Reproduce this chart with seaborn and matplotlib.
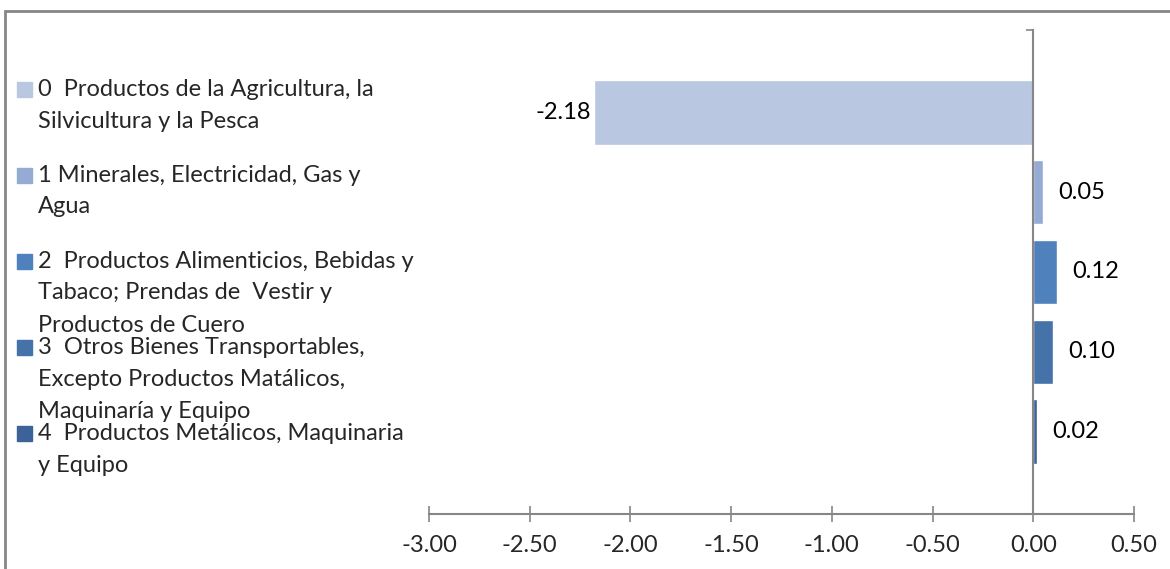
import matplotlib.pyplot as plt
import matplotlib.patches as mpatches
import seaborn as sns

codes = ['0', '1', '2', '3', '4']
values = [-2.18, 0.05, 0.12, 0.10, 0.02]
value_labels = ['-2.18', '0.05', '0.12', '0.10', '0.02']
legend_labels = [
    '0  Productos de la Agricultura, la\nSilvicultura y la Pesca',
    '1 Minerales, Electricidad, Gas y\nAgua',
    '2  Productos Alimenticios, Bebidas y\nTabaco; Prendas de  Vestir y\nProductos de Cuero',
    '3  Otros Bienes Transportables,\nExcepto Productos Matálicos,\nMaquinaría y Equipo',
    '4  Productos Metálicos, Maquinaria\ny Equipo',
]
xticks = [-3.0, -2.5, -2.0, -1.5, -1.0, -0.5, 0.0, 0.5]
colors = ['#B9C7E1', '#95ABD4', '#4F81BD', '#4572A8', '#3C6298']

sns.set_style('white')
plt.rcParams['font.family'] = ['Lato', 'DejaVu Sans']
FS = 17

fig = plt.figure(figsize=(11.7, 5.69), dpi=100)
ax = fig.add_axes([429 / 1170, 55 / 569, 705 / 1170, 484 / 569])

sns.barplot(x=values, y=codes, hue=codes, palette=colors, orient='h',
            width=0.81, legend=False, ax=ax, saturation=1)

ax.set_xlim(-3.0, 0.5)
ax.set_ylim(5.03, -1.03)

# value labels
for cont, v, lab in zip(ax.containers, values, value_labels):
    pad = 2 if v < 0 else 11
    ax.bar_label(cont, labels=[lab], padding=pad, fontsize=FS, color='black')

gray = '#868686'
for s in ['top', 'right']:
    ax.spines[s].set_visible(False)
ax.spines['left'].set_position(('data', 0))
ax.spines['left'].set_color(gray)
ax.spines['left'].set_linewidth(1.5)
ax.spines['bottom'].set_color(gray)
ax.spines['bottom'].set_linewidth(1.5)

ax.set_xticks(xticks)
ax.set_xticklabels([f'{t:.2f}' for t in xticks])
ax.tick_params(axis='x', direction='inout', length=12, width=1.2, color=gray,
               labelsize=FS, pad=9, bottom=True)
ax.set_yticks([-1.03])
ax.set_yticklabels([''])
ax.tick_params(axis='y', direction='out', length=5, width=1.2, color=gray, left=True)
ax.set_xlabel('')
ax.set_ylabel('')

# legend drawn by hand (entries overlap like the original)
W, H = 1170, 569
for i, (lab, c) in enumerate(zip(legend_labels, colors)):
    y0 = 89 + i * 86
    fig.patches.append(mpatches.Rectangle((17 / W, 1 - (y0 + 8) / H), 15 / W, 15 / H,
                                          transform=fig.transFigure, color=c))
    for k, line in enumerate(lab.split('\n')):
        fig.text(38 / W, 1 - (y0 + k * 32) / H, line, fontsize=FS, va='center', ha='left')

# outer chart frame
fig.patches.append(mpatches.Rectangle((5 / W, -0.1), 1.2, 1 - 11 / H + 0.1,
                                      transform=fig.transFigure, fill=False,
                                      edgecolor=gray, linewidth=2))

fig.savefig('out.png', dpi=100)
